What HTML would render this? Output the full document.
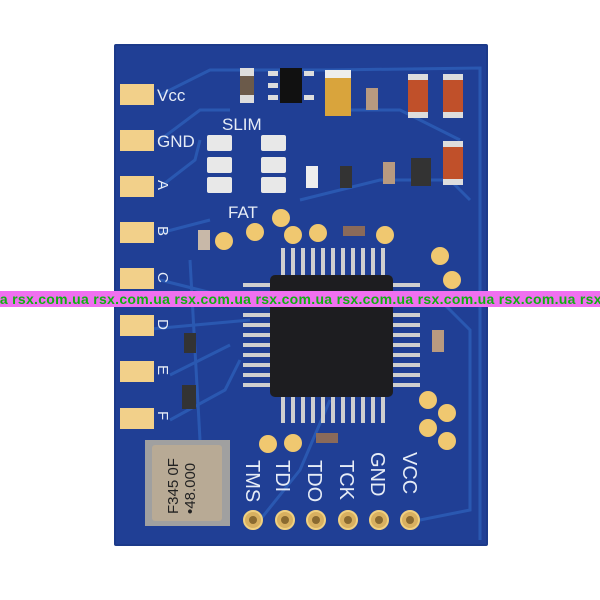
<!DOCTYPE html>
<html><head><style>
html,body{margin:0;padding:0;background:#fff;width:600px;height:600px;overflow:hidden}
svg{display:block}
text{font-family:"Liberation Sans",sans-serif}
</style></head><body>
<svg width="600" height="600" viewBox="0 0 600 600" xmlns="http://www.w3.org/2000/svg">
<rect width="600" height="600" fill="#fff"/>
<rect x="114" y="44" width="374" height="502" fill="#1c3a8a" rx="2"/>
<rect x="116" y="46" width="370" height="498" fill="#203f95"/>
<g stroke="#2d5fb8" stroke-width="3" fill="none" opacity="0.8">
<path d="M160 95 L210 70 L330 70 L480 68 L480 540"/>
<path d="M160 140 L200 110 L230 110"/>
<path d="M160 187 L195 160 L200 140"/>
<path d="M160 233 L210 220"/>
<path d="M160 280 L240 300"/>
<path d="M140 330 L250 320"/>
<path d="M170 375 L230 345"/>
<path d="M170 420 L225 390 L240 360"/>
<path d="M260 520 L300 470 L330 400"/>
<path d="M420 520 L470 510 L470 330 L440 300"/>
<path d="M300 200 L380 180 L450 180 L470 200"/>
<path d="M340 110 L400 110 L460 140"/>
<path d="M190 260 L200 440"/>
</g>
<g fill="#f2d08a">
<rect x="120" y="84" width="34" height="21"/>
<rect x="120" y="130" width="34" height="21"/>
<rect x="120" y="176" width="34" height="21"/>
<rect x="120" y="222" width="34" height="21"/>
<rect x="120" y="268" width="34" height="21"/>
<rect x="120" y="315" width="34" height="21"/>
<rect x="120" y="361" width="34" height="21"/>
<rect x="120" y="408" width="34" height="21"/>
</g>
<g fill="#e6ecf6" font-size="17">
<text x="157" y="101">Vcc</text>
<text x="157" y="147">GND</text>
</g>
<g fill="#e6ecf6" font-size="15">
<text transform="translate(158,180) rotate(90)">A</text>
<text transform="translate(158,226) rotate(90)">B</text>
<text transform="translate(158,272) rotate(90)">C</text>
<text transform="translate(158,319) rotate(90)">D</text>
<text transform="translate(158,365) rotate(90)">E</text>
<text transform="translate(158,411) rotate(90)">F</text>
</g>
<text x="222" y="130" fill="#e6ecf6" font-size="17">SLIM</text>
<text x="228" y="218" fill="#e6ecf6" font-size="17">FAT</text>
<g fill="#e8e8e8">
<rect x="207" y="135" width="25" height="16" rx="2"/>
<rect x="207" y="157" width="25" height="16" rx="2"/>
<rect x="207" y="177" width="25" height="16" rx="2"/>
<rect x="261" y="135" width="25" height="16" rx="2"/>
<rect x="261" y="157" width="25" height="16" rx="2"/>
<rect x="261" y="177" width="25" height="16" rx="2"/>
</g>
<rect x="240" y="68" width="14" height="35" fill="#6b5a4a"/>
<rect x="240" y="68" width="14" height="8" fill="#ddd"/>
<rect x="240" y="95" width="14" height="8" fill="#ddd"/>
<rect x="280" y="68" width="22" height="35" fill="#111"/>
<g fill="#ddd"><rect x="268" y="71" width="10" height="5"/><rect x="268" y="83" width="10" height="5"/><rect x="268" y="95" width="10" height="5"/><rect x="304" y="71" width="10" height="5"/><rect x="304" y="95" width="10" height="5"/></g>
<rect x="325" y="74" width="26" height="42" fill="#d9a43c"/>
<rect x="325" y="70" width="26" height="8" fill="#eee"/>
<rect x="366" y="88" width="12" height="22" fill="#b89a80"/>
<g fill="#c0502a"><rect x="408" y="78" width="20" height="36"/><rect x="443" y="78" width="20" height="36"/><rect x="443" y="145" width="20" height="36"/></g>
<g fill="#ddd"><rect x="408" y="74" width="20" height="6"/><rect x="408" y="112" width="20" height="6"/><rect x="443" y="74" width="20" height="6"/><rect x="443" y="112" width="20" height="6"/><rect x="443" y="141" width="20" height="6"/><rect x="443" y="179" width="20" height="6"/></g>
<rect x="411" y="158" width="20" height="28" fill="#333"/>
<rect x="383" y="162" width="12" height="22" fill="#b89a80"/>
<rect x="306" y="166" width="12" height="22" fill="#eee"/>
<rect x="340" y="166" width="12" height="22" fill="#333"/>
<rect x="343" y="226" width="22" height="10" fill="#8a6a5a"/>
<rect x="198" y="230" width="12" height="20" fill="#c8b8a8"/>
<rect x="184" y="333" width="12" height="20" fill="#333"/>
<rect x="182" y="385" width="14" height="24" fill="#333"/>
<rect x="432" y="330" width="12" height="22" fill="#b89a80"/>
<rect x="316" y="433" width="22" height="10" fill="#8a6a5a"/>
<g fill="#f0c870">
<circle cx="224" cy="241" r="9"/><circle cx="255" cy="232" r="9"/><circle cx="281" cy="218" r="9"/><circle cx="293" cy="235" r="9"/><circle cx="318" cy="233" r="9"/><circle cx="385" cy="235" r="9"/>
<circle cx="440" cy="256" r="9"/><circle cx="452" cy="280" r="9"/>
<circle cx="428" cy="400" r="9"/><circle cx="447" cy="413" r="9"/><circle cx="428" cy="428" r="9"/><circle cx="447" cy="441" r="9"/>
<circle cx="268" cy="444" r="9"/><circle cx="293" cy="443" r="9"/>
</g>
<g fill="#cfcfcf">
<rect x="281" y="248" width="4" height="28"/><rect x="291" y="248" width="4" height="28"/><rect x="301" y="248" width="4" height="28"/><rect x="311" y="248" width="4" height="28"/><rect x="321" y="248" width="4" height="28"/><rect x="331" y="248" width="4" height="28"/><rect x="341" y="248" width="4" height="28"/><rect x="351" y="248" width="4" height="28"/><rect x="361" y="248" width="4" height="28"/><rect x="371" y="248" width="4" height="28"/><rect x="381" y="248" width="4" height="28"/>
<rect x="281" y="395" width="4" height="28"/><rect x="291" y="395" width="4" height="28"/><rect x="301" y="395" width="4" height="28"/><rect x="311" y="395" width="4" height="28"/><rect x="321" y="395" width="4" height="28"/><rect x="331" y="395" width="4" height="28"/><rect x="341" y="395" width="4" height="28"/><rect x="351" y="395" width="4" height="28"/><rect x="361" y="395" width="4" height="28"/><rect x="371" y="395" width="4" height="28"/><rect x="381" y="395" width="4" height="28"/>
<rect x="243" y="283" width="28" height="4"/><rect x="243" y="293" width="28" height="4"/><rect x="243" y="303" width="28" height="4"/><rect x="243" y="313" width="28" height="4"/><rect x="243" y="323" width="28" height="4"/><rect x="243" y="333" width="28" height="4"/><rect x="243" y="343" width="28" height="4"/><rect x="243" y="353" width="28" height="4"/><rect x="243" y="363" width="28" height="4"/><rect x="243" y="373" width="28" height="4"/><rect x="243" y="383" width="28" height="4"/>
<rect x="392" y="283" width="28" height="4"/><rect x="392" y="293" width="28" height="4"/><rect x="392" y="303" width="28" height="4"/><rect x="392" y="313" width="28" height="4"/><rect x="392" y="323" width="28" height="4"/><rect x="392" y="333" width="28" height="4"/><rect x="392" y="343" width="28" height="4"/><rect x="392" y="353" width="28" height="4"/><rect x="392" y="363" width="28" height="4"/><rect x="392" y="373" width="28" height="4"/><rect x="392" y="383" width="28" height="4"/>
</g>
<rect x="270" y="275" width="123" height="122" rx="5" fill="#1d1d20"/>
<rect x="145" y="440" width="85" height="86" fill="#a0a0a0"/>
<rect x="152" y="445" width="70" height="76" rx="3" fill="#b8aa95"/>
<text transform="translate(178,514) rotate(-90)" fill="#222" font-size="15" font-family="Liberation Mono,monospace">F345 0F</text>
<text transform="translate(195,514) rotate(-90)" fill="#222" font-size="15" font-family="Liberation Mono,monospace">•48.000</text>
<g fill="#e6ecf6" font-size="20">
<text transform="translate(246,460) rotate(90)">TMS</text>
<text transform="translate(276,460) rotate(90)">TDI</text>
<text transform="translate(308,460) rotate(90)">TDO</text>
<text transform="translate(340,460) rotate(90)">TCK</text>
<text transform="translate(371,452) rotate(90)">GND</text>
<text transform="translate(403,452) rotate(90)">VCC</text>
</g>
<g fill="#d8b060" stroke="#f0d080" stroke-width="2">
<circle cx="253" cy="520" r="9"/><circle cx="285" cy="520" r="9"/><circle cx="316" cy="520" r="9"/><circle cx="348" cy="520" r="9"/><circle cx="379" cy="520" r="9"/><circle cx="410" cy="520" r="9"/>
</g>
<g fill="#8a6a30"><circle cx="253" cy="520" r="4"/><circle cx="285" cy="520" r="4"/><circle cx="316" cy="520" r="4"/><circle cx="348" cy="520" r="4"/><circle cx="379" cy="520" r="4"/><circle cx="410" cy="520" r="4"/></g>
<rect x="0" y="291" width="600" height="16" fill="#f070f0"/>
<text x="-69" y="304" fill="#10b010" font-size="14" font-weight="bold" letter-spacing="0.3" font-family="Liberation Sans,sans-serif" xml:space="preserve">rsx.com.ua rsx.com.ua rsx.com.ua rsx.com.ua rsx.com.ua rsx.com.ua rsx.com.ua rsx.com.ua rsx.com.ua</text>
</svg>
</body></html>
